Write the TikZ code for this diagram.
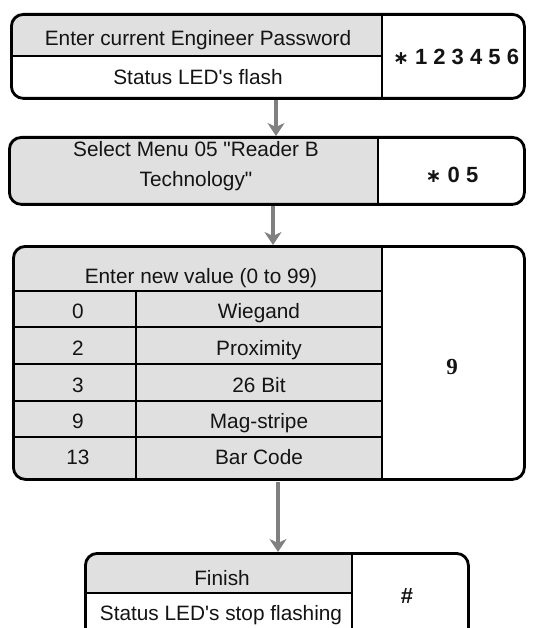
\documentclass[tikz,border=0pt]{standalone}
\usepackage{fontspec}
\setmainfont{Liberation Sans}[Ligatures=TeXOff]
\newfontfamily\serifbf{Liberation Serif}
\newfontfamily\djv{DejaVu Sans}
\usetikzlibrary{arrows.meta,calc}
\definecolor{cellgray}{RGB}{224,224,224}
\definecolor{arrowgray}{RGB}{128,128,128}
\definecolor{ink}{RGB}{20,20,20}
\begin{document}
\begin{tikzpicture}[x=1pt,y=-1pt,
  txt/.style={font=\fontsize{20.8}{24}\selectfont, text=ink, inner sep=0pt, anchor=base},
  keytxt/.style={font=\fontsize{22}{24}\selectfont\bfseries, text=ink, inner sep=0pt, anchor=base},
  outer/.style={draw=black, line width=2.8pt, rounded corners=12pt, inner sep=0pt, anchor=north west},
  inner/.style={draw=black, line width=1.3pt},
  flow/.style={draw=arrowgray, line width=3.4pt, -{Stealth[length=13pt,width=17pt,inset=4pt]}}]
\useasboundingbox (0,0) rectangle (534,628);
\newcommand{\starkey}{{\fontsize{19}{20}\selectfont\djv\bfseries ∗}}

% ---------- Box 1 ----------
\begin{scope}
  \clip[rounded corners=12pt] (10,13) rectangle (523,97);
  \fill[cellgray] (10,13) rectangle (382,56);
\end{scope}
\draw[inner] (10,56) -- (382,56);
\draw[inner] (382,13) -- (382,100);
\node[outer, minimum width=513pt, minimum height=84pt] (b1) at (10,13) {};
\node[txt] (t1a) at (198,46) {Enter current Engineer Password};
\node[txt] (t1b) at (198,85) {Status LED's flash};
\node[keytxt] (k1) at (456,65) {\starkey\ 1 2 3 4 5 6};

% ---------- Box 2 ----------
\begin{scope}
  \clip[rounded corners=12pt] (8,136) rectangle (523,203);
  \fill[cellgray] (8,136) rectangle (378,203);
\end{scope}
\draw[inner] (378,136) -- (378,206);
\node[outer, minimum width=515pt, minimum height=67pt] (b2) at (8,136) {};
\node[txt] (t2a) at (196,157) {Select Menu 05 "Reader B};
\node[txt] (t2b) at (196,186) {Technology"};
\node[keytxt] (k2) at (452,183) {\starkey\ 0 5};

% ---------- Box 3 ----------
\begin{scope}
  \clip[rounded corners=12pt] (12,245) rectangle (523,478);
  \fill[cellgray] (12,245) rectangle (382,478);
\end{scope}
\foreach \yy in {291,327,364,401,437}
  \draw[inner] (12,\yy) -- (382,\yy);
\draw[inner] (136,291) -- (136,478);
\draw[inner] (382,245) -- (382,478);
\node[outer, minimum width=511pt, minimum height=233pt] (b3) at (12,245) {};
\node[txt] (t3h) at (201,283) {Enter new value (0 to 99)};
\node[txt] (n0) at (78,318) {0};
\node[txt] (n2) at (78,355) {2};
\node[txt] (n3) at (78,392) {3};
\node[txt] (n9) at (78,428) {9};
\node[txt] (n13) at (78,464) {13};
\node[txt] (w0) at (259,318) {Wiegand};
\node[txt] (w2) at (259,355) {Proximity};
\node[txt] (w3) at (259,392) {26 Bit};
\node[txt] (w9) at (259,428) {Mag-stripe};
\node[txt] (w13) at (259,464) {Bar Code};
\node[txt, font=\fontsize{23}{26}\selectfont\serifbf\bfseries] (k3) at (452,374) {9};

% ---------- Box 4 ----------
\begin{scope}
  \clip[rounded corners=12pt] (84,552) rectangle (467,642);
  \fill[cellgray] (84,552) rectangle (352,593);
\end{scope}
\draw[inner] (84,593) -- (352,593);
\draw[inner] (352,552) -- (352,642);
\node[outer, minimum width=383pt, minimum height=90pt] (b4) at (84,552) {};
\node[txt] (t4a) at (222,585) {Finish};
\node[txt] (t4b) at (221,620) {Status LED's stop flashing};
\node[keytxt] (k4) at (407,603) {\#};

% ---------- Connectors ----------
\coordinate (a1) at (276,100);
\coordinate (a2) at (273,206);
\coordinate (a3) at (278,482);
\draw[flow] (a1) -- (a1 |- b2.north);
\draw[flow] (a2) -- (a2 |- b3.north);
\draw[flow] (a3) -- (a3 |- b4.north);
\end{tikzpicture}
\end{document}
